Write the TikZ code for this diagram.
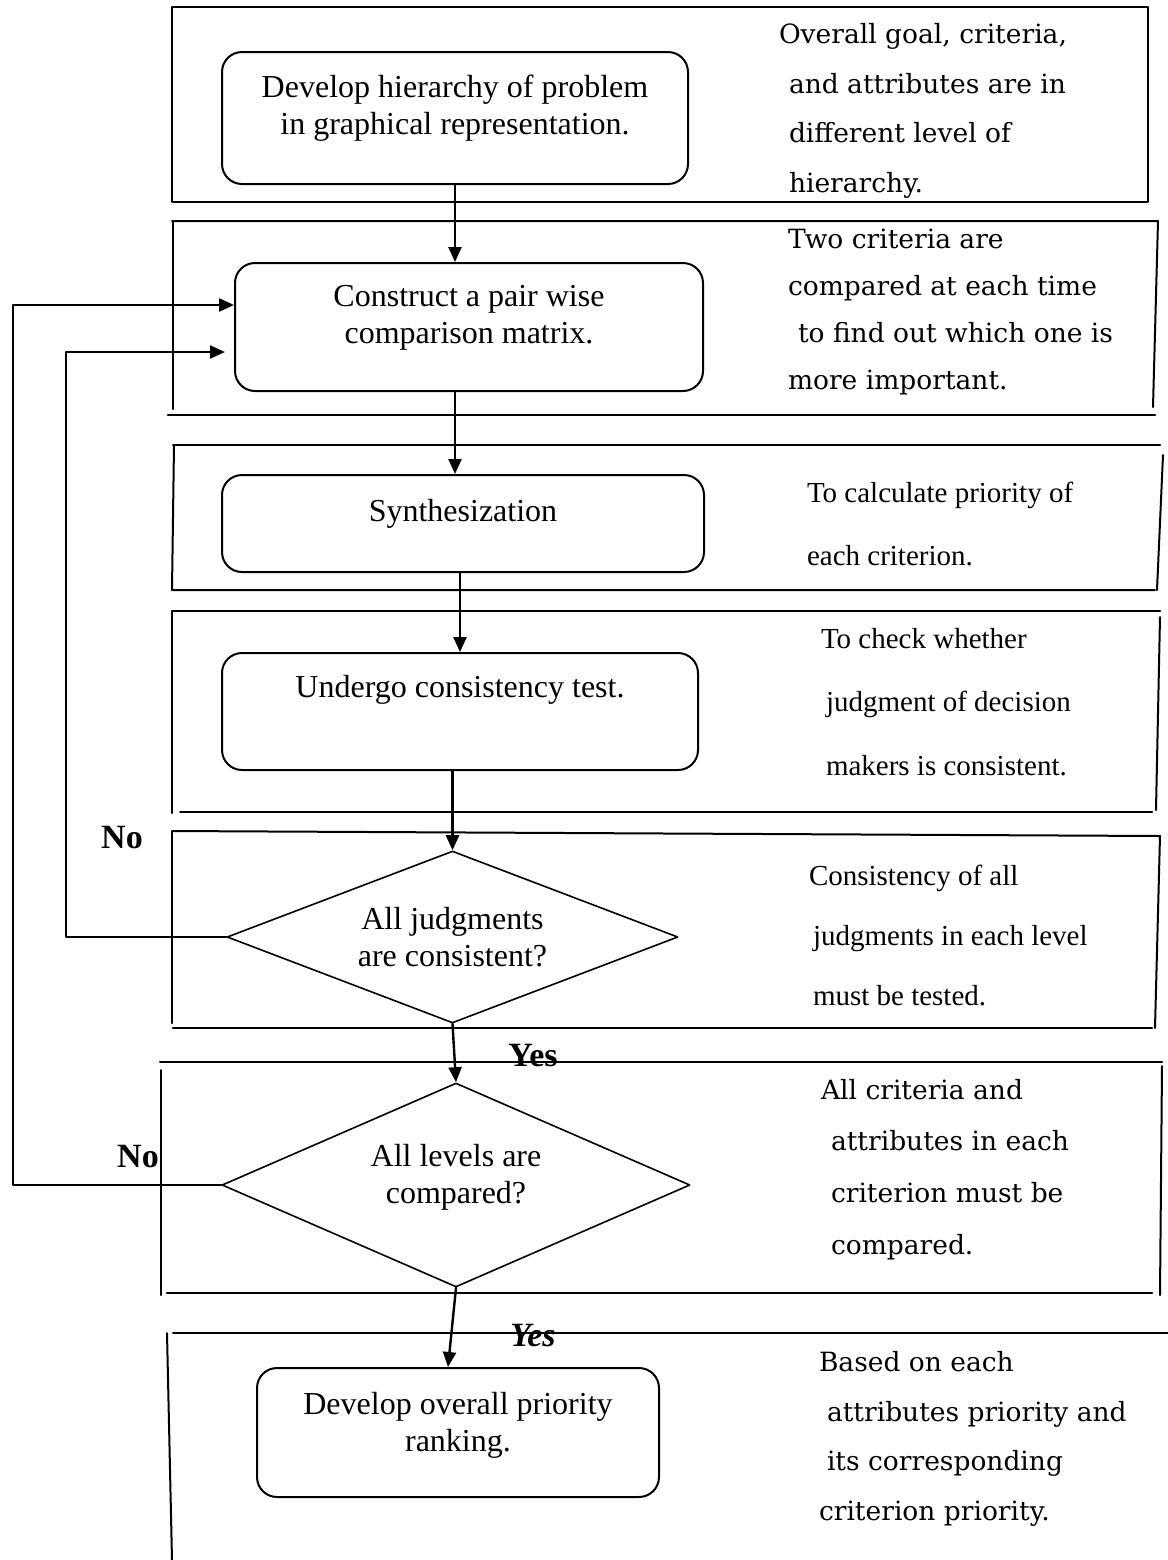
\documentclass[tikz,border=0pt]{standalone}
\usepackage{fontspec}
\setmainfont{Liberation Serif}
\newfontfamily\notefont{DejaVu Serif}
\usepackage{tikz}
\usetikzlibrary{arrows.meta,shapes.geometric}

\begin{document}
\begin{tikzpicture}[x=0.5pt,y=-0.5pt,line width=1pt,line cap=round,line join=round,
    stepbox/.style={draw,rounded corners=10pt,align=center,inner sep=0pt,
        font=\fontsize{16}{18.5}\selectfont},
    decision/.style={draw,diamond,align=center,inner sep=0pt,line width=0.8pt,
        font=\fontsize{16}{18.5}\selectfont},
    flow/.style={-{Triangle[length=7.5pt,width=6.5pt]},line width=1.2pt},
    note/.style={anchor=base west,align=left,inner sep=0pt,font=\notefont\fontsize{13.25}{#1}\selectfont},
    tnote/.style={anchor=base west,align=left,inner sep=0pt,font=\fontsize{14.5}{#1}\selectfont},
    answer/.style={anchor=base,inner sep=0pt,font=\fontsize{17}{20}\selectfont\bfseries}]
\useasboundingbox (0,0) rectangle (1168,1560);

%%%%%%%%%%%%%%%% LEVEL FRAMES %%%%%%%%%%%%%%%%
\draw (172,7) rectangle (1148,202);

\draw (172,221) -- (1158,221) -- (1153,407);
\draw (173,221) -- (173,409);
\draw[line width=1.4pt] (168,415) -- (1155,415);

\draw (173,445) -- (1160,445);
\draw (1163,455) -- (1157,590);
\draw (174,445) -- (172,590) -- (1155,590);

\draw (172,611) -- (1160,611);
\draw (1160,617) -- (1156,810);
\draw (172,611) -- (172,813);
\draw (180,812) -- (1152,812);

\draw (172,831) -- (1160,836) -- (1155,1028);
\draw (172,831) -- (172,1023);
\draw[line width=1.4pt] (173,1028) -- (1152,1028);

\draw (160,1062) -- (1162,1062);
\draw (1162,1066) -- (1160,1295);
\draw (161,1070) -- (161,1295);
\draw[line width=1.4pt] (167,1293) -- (1152,1293);

\draw (173,1333) -- (1168,1333);
\draw (167,1333) -- (172,1560);

%%%%%%%%%%%%%%%% STEPS %%%%%%%%%%%%%%%%
\node[stepbox,minimum width=233pt,minimum height=66pt,text height=30pt,text depth=14pt] (hier) at (455,118)
    {Develop hierarchy of problem\\in graphical representation.};
\node[stepbox,minimum width=234pt,minimum height=64pt,text height=30pt,text depth=14pt] (pair) at (469,327)
    {Construct a pair wise\\comparison matrix.};
\node[stepbox,minimum width=241pt,minimum height=48.5pt,text height=11pt,text depth=13.5pt] (synth) at (463,523.5)
    {Synthesization};
\node[stepbox,minimum width=238pt,minimum height=58.5pt,text height=11pt,text depth=25.5pt] (ctest) at (460,711.5)
    {Undergo consistency test.};
\node[decision,minimum width=225.5pt,minimum height=86pt,aspect=2.6] (judge) at (452.5,937)
    {All judgments\\are consistent?};
\node[decision,minimum width=234pt,minimum height=102pt,aspect=2.3,text height=30pt,text depth=12pt] (levels) at (456,1185)
    {All levels are\\compared?};
\node[stepbox,minimum width=201pt,minimum height=64.5pt,text height=30pt,text depth=11.5pt] (rank) at (458,1432.5)
    {Develop overall priority\\ranking.};

%%%%%%%%%%%%%%%% NOTES %%%%%%%%%%%%%%%%
\node[note=24.7pt] (goalnote) at (778,192)
    {Overall goal, criteria,\\\hspace*{5pt}and attributes are in\\\hspace*{5pt}different level of\\\hspace*{5pt}hierarchy.};
\node[note=23.5pt] (pairnote) at (787,389)
    {Two criteria are\\compared at each time\\\hspace*{5pt}to find out which one is\\more important.};
\node[tnote=31.5pt] (synthnote) at (806,565)
    {To calculate priority of\\each criterion.};
\node[tnote=31.75pt] (testnote) at (820,775)
    {To check whether\\\hspace*{2.5pt}judgment of decision\\\hspace*{2.5pt}makers is consistent.};
\node[tnote=30pt] (judgenote) at (808,1005)
    {Consistency of all\\\hspace*{2pt}judgments in each level\\\hspace*{2pt}must be tested.};
\node[note=25.8pt] (levelnote) at (820,1254)
    {All criteria and\\\hspace*{5pt}attributes in each\\\hspace*{5pt}criterion must be\\\hspace*{5pt}compared.};
\node[note=24.7pt] (ranknote) at (818,1520)
    {Based on each\\\hspace*{4pt}attributes priority and\\\hspace*{4pt}its corresponding\\criterion priority.};

%%%%%%%%%%%%%%%% FLOW %%%%%%%%%%%%%%%%
\draw[flow] (hier.south) -- (hier.south |- pair.north);
\draw[flow] (pair.south -| hier.south) -- (synth.north -| hier.south);
\draw[flow] (synth.south -| ctest.north) -- (ctest.north);
\draw[flow] (ctest.south -| judge.north) -- (judge.north);
\draw[flow] (judge.south) -- (levels.north);
\draw[flow] (levels.south) -- ([xshift=-5pt]rank.north);

\coordinate (back1) at (66,352);
\coordinate (back2) at (13,305);
\draw[flow] (judge.west) -| (back1) -- ([xshift=-4.5pt]pair.west |- back1);
\draw[flow] (levels.west) -| (back2) -- (pair.west |- back2);

\node[answer] (no1) at (122,848) {No};
\node[answer] (no2) at (138,1167) {No};
\node[answer] (yes1) at (533,1066) {Yes};
\node[answer,font=\fontsize{17}{20}\selectfont\bfseries\itshape] (yes2) at (533,1346) {Yes};

\end{tikzpicture}
\end{document}
